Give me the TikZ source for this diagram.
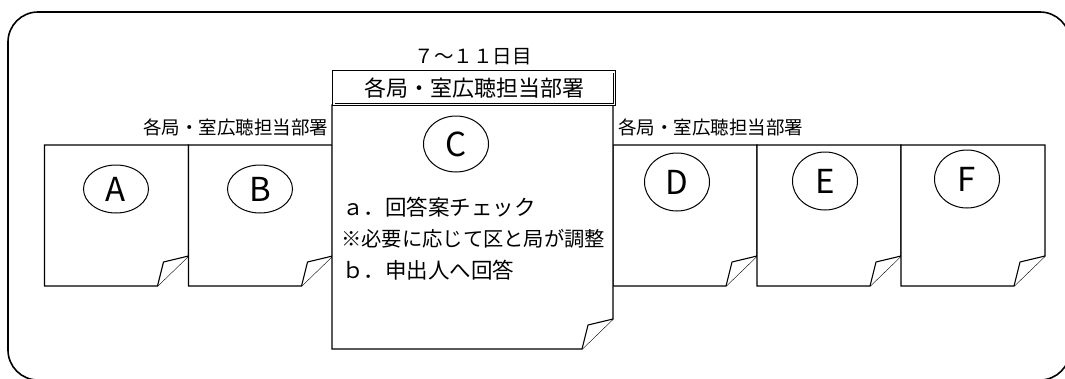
\documentclass[tikz,border=0pt]{standalone}
\usepackage{fontspec}
\setmainfont{Noto Sans CJK JP}
\usetikzlibrary{shapes.geometric}
\tikzset{
  cardline/.style={draw=black, line width=1.1pt, fill=white, line join=miter},
  card/.style={rectangle, inner sep=0pt, outer sep=0pt, minimum width=144pt, minimum height=141pt},
  bigcard/.style={rectangle, inner sep=0pt, outer sep=0pt, minimum width=281pt, minimum height=244pt},
  letterring/.style={ellipse, draw=black, line width=1pt, fill=white, inner sep=0pt, minimum width=65pt, font=\fontsize{33pt}{33pt}\selectfont},
  sidelabel/.style={inner sep=0pt, font=\fontsize{18.5pt}{18.5pt}\selectfont},
  ctext/.style={inner sep=0pt, anchor=west},
  hdrbox/.style={draw=black, double, double distance=1.6pt, line width=0.9pt, fill=white, inner sep=0pt, minimum width=280.6pt, minimum height=32.6pt, font=\fontsize{22pt}{22pt}\selectfont}
}
\newcommand\foldcard[1]{%
  \draw[cardline] (#1.north west) -- (#1.north east) -- ([yshift=30pt]#1.south east) -- ([xshift=-31pt]#1.south east) -- (#1.south west) -- cycle;
  \draw[cardline] ([xshift=-31pt]#1.south east) -- ([xshift=-25pt,yshift=24pt]#1.south east) -- ([yshift=30pt]#1.south east);
}
\begin{document}
\begin{tikzpicture}[x=1pt,y=-1pt]
\useasboundingbox (0,0) rectangle (1065,378);
\clip (0,0) rectangle (1065,378);
\draw[line width=1.6pt, rounded corners=30pt] (8,12) rectangle (1070,380);
% cards
\node[card] (cA) at (116.5,215.5) {};
\node[card] (cB) at (260.5,215.5) {};
\node[card] (cD) at (685,215.5) {};
\node[card] (cE) at (829,215.5) {};
\node[card] (cF) at (973,215.5) {};
\node[bigcard] (cC) at (472.5,227) {};
\foldcard{cA}
\foldcard{cB}
\foldcard{cD}
\foldcard{cE}
\foldcard{cF}
\foldcard{cC}
% header box
\node[hdrbox] (hdr) at (474,88) {各局・室広聴担当部署};
\node[inner sep=0pt, font=\fontsize{19.5pt}{19.5pt}\selectfont] (day) at (473,57) {７〜１１日目};
% side labels
\node[sidelabel, anchor=west] (lblL) at (143,127) {各局・室広聴担当部署};
\node[sidelabel, anchor=west] (lblR) at (618,127) {各局・室広聴担当部署};
% letter rings
\node[letterring, minimum height=48pt] (rA) at (116,189) {A};
\node[letterring, minimum height=48pt] (rB) at (260,189) {B};
\node[letterring, minimum height=56pt] (rC) at (456,144) {C};
\node[letterring, minimum height=58pt] (rD) at (677,182) {D};
\node[letterring, minimum height=58pt] (rE) at (825,181) {E};
\node[letterring, minimum height=58pt] (rF) at (967,179) {F};
% C text
\node[ctext, font=\fontsize{21.5pt}{21.5pt}\selectfont] (t1) at (342,207) {ａ．回答案チェック};
\node[ctext, font=\fontsize{20.3pt}{20.3pt}\selectfont] (t2) at (341,239) {※必要に応じて区と局が調整};
\node[ctext, font=\fontsize{21.5pt}{21.5pt}\selectfont] (t3) at (342,270) {ｂ．申出人へ回答};
\end{tikzpicture}
\end{document}
